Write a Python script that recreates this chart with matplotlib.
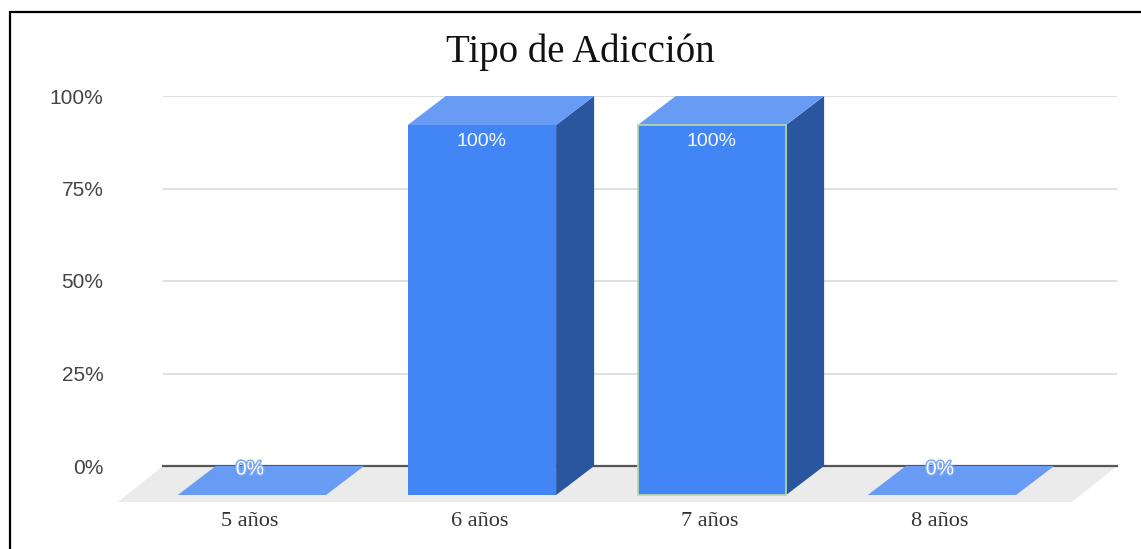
import numpy as np
import matplotlib
matplotlib.use('Agg')
import matplotlib.pyplot as plt
import matplotlib.patheffects as pe
from matplotlib.patches import Polygon, Rectangle
from matplotlib.transforms import IdentityTransform

categories = ['5 años', '6 años', '7 años', '8 años']
values = [0.0, 1.0, 1.0, 0.0]
value_labels = ['0%', '100%', '100%', '0%']
yticks = [0, 0.25, 0.5, 0.75, 1.0]
ytick_labels = ['0%', '25%', '50%', '75%', '100%']
title = 'Tipo de Adicción'

front_col = '#4285f4'
top_col = '#689cf4'
side_col = '#2a56a0'
floor_col = '#ebebeb'

W, H = 1141, 549
fig = plt.figure(figsize=(W / 100, H / 100), dpi=100)
ax = fig.add_axes([163 / W, 83 / H, (1117 - 163) / W, (466 - 96) / H])
ax.set_xlim(-0.552, 3.596)
ax.set_ylim(0, 1.0)
for s in ax.spines.values():
    s.set_visible(False)
ax.set_xticks([])
ax.set_yticks(yticks)
ax.set_yticklabels(ytick_labels, fontsize=15, color='#444444', family='Liberation Sans')
ax.tick_params(axis='y', length=0, pad=43)

# depth offsets in pixels (front plane relative to back plane)
bar_dx, bar_dy = -38, -29
floor_dx, floor_dy = -45, -36
bw = 0.645

T = ax.transData
ident = IdentityTransform()


def disp(x, y):
    return T.transform((x, y))


# floor
x0, x1 = ax.get_xlim()
b0, b1 = disp(x0, 0), disp(x1, 0)
floor = [b0, b1, b1 + [floor_dx, floor_dy], b0 + [floor_dx, floor_dy]]
ax.add_patch(Polygon(floor, closed=True, facecolor=floor_col, edgecolor='none',
                     transform=ident, clip_on=False, zorder=0))

# gridlines
for t in yticks[1:]:
    ax.axhline(t, color='#d9d9d9', lw=1.2, zorder=1)
ax.axhline(0, color='#555555', lw=1.6, zorder=1, clip_on=False)

# 3d bars
off = np.array([bar_dx, bar_dy])
for i, (v, lab) in enumerate(zip(values, value_labels)):
    bl, br = disp(i - bw / 2, 0), disp(i + bw / 2, 0)
    tl, tr = disp(i - bw / 2, v), disp(i + bw / 2, v)
    # side
    side = [br, tr, tr + off, br + off]
    ax.add_patch(Polygon(side, facecolor=side_col, edgecolor='none',
                         transform=ident, clip_on=False, zorder=3))
    # top
    top = [tl + off, tr + off, tr, tl]
    ax.add_patch(Polygon(top, facecolor=top_col, edgecolor='none',
                         transform=ident, clip_on=False, zorder=3))
    # front
    ec = '#b7dba0' if i == 2 else 'none'
    front = [bl + off, br + off, tr + off, tl + off]
    ax.add_patch(Polygon(front, facecolor=front_col, edgecolor=ec, lw=1.2,
                         transform=ident, clip_on=False, zorder=4))
    # value label
    cx = (tl[0] + tr[0]) / 2 + bar_dx
    cy = tl[1] + bar_dy
    if v > 0:
        ax.text(cx, cy - 17, lab, transform=ident, ha='center', va='center',
                color='#f4f8ff', fontsize=14, family='Liberation Sans', zorder=5)
    else:
        ax.text(cx - 2, cy + 25, lab, transform=ident, ha='center', va='center',
                color='white', fontsize=14, family='Liberation Sans', zorder=5,
                path_effects=[pe.withStroke(linewidth=2.2, foreground='#7aa8f2')])
    # category label
    ax.text(cx - 2, disp(i, 0)[1] - 56, categories[i], transform=ident,
            ha='center', va='center', color='#333333', fontsize=16,
            family='Liberation Serif', zorder=5)

fig.text(580 / W, 1 - 52 / H, title, ha='center', va='center', fontsize=28,
         family='Liberation Serif', color='#111111')

# frame around the picture
fig.add_artist(Rectangle((9.5 / W, -0.1), 1.2, 1 - 12.5 / H + 0.1,
                         transform=fig.transFigure, fill=False,
                         edgecolor='black', lw=1.6))

fig.savefig('out.png', dpi=100)
